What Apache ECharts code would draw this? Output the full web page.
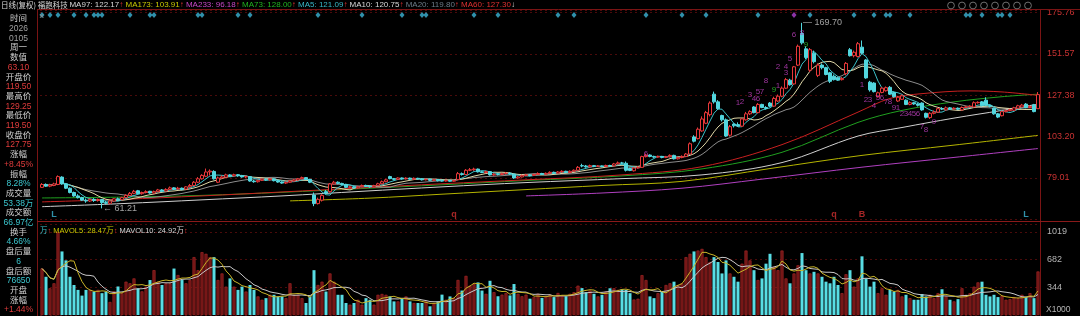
<!DOCTYPE html>
<html><head><meta charset="utf-8">
<script src="https://cdn.jsdelivr.net/npm/echarts@6/dist/echarts.min.js"></script>
<style>html,body{margin:0;padding:0;background:#000;}#c{width:1080px;height:316px;}</style>
</head><body><div id="c"></div>
<script>
// [open, close, high, low]
const ohlc = [
[73.5,75.2,76,73.2],[75.2,74.2,75.8,73.8],[74.2,74.9,75.6,73.6],[74.6,75.5,76.2,74.2],[75.2,79.8,80.5,74.8],
[79.5,75.5,80,75],[75.5,73,76,72.5],[73,70.5,73.5,70],[70.5,68.5,71,68],[68.5,67.5,69.5,67],
[67.5,66,68,65.5],[66,65.5,67,64.5],[65.5,66.5,67,65],[66.5,65.8,67.2,65],[65.8,66.4,67,65.2],
[66.4,64.6,66.8,61.21],[64.6,64.2,65.5,63.5],[64.2,65.5,66,63.5],[65.5,66.8,67.2,65],[66.8,66.2,67.5,65.6],
[66.2,67.5,68,66],[67.5,68.8,69.5,67.2],[68.8,70,70.8,68.5],[70,71.2,72,69.5],[71.5,69.8,72,69.5],
[69.8,70.5,71,69.2],[70.5,71,71.8,70],[71.2,70.2,71.5,69.8],[70.2,71,71.6,69.8],[71,72,72.6,70.6],
[72,71.4,72.5,71],[71.4,72.3,73,71],[72.3,73.2,74,72],[73.2,72.5,73.6,72],[72.5,73,73.8,72.2],
[73,72.2,73.4,71.8],[72.5,73.8,74.2,72.2],[73.8,74.6,75.5,73.4],[74.6,76.5,77.2,74.3],[76.5,78.5,79.5,76],
[78.5,80.5,81.2,78],[80,82.5,84.5,79.5],[82.5,83,84,80.5],[82.8,78.5,83.5,78],[76.5,79,79.8,76],
[79,79.6,80.5,78.5],[79.5,80.8,81.5,79.2],[80.8,80.2,81.2,79.6],[80.2,80.9,81.5,79.8],[80.9,80.3,81.3,79.7],
[80.3,79.6,80.8,79.2],[79.6,79.8,80.4,79],[79.8,77.2,80,76.8],[77.2,76.8,77.8,76.2],[76.8,77.6,78,76.3],
[77.6,78.3,78.8,77.2],[78.3,77.9,78.8,77.4],[77.9,78.5,79,77.5],[78.5,77.4,78.8,77],[77.4,76.6,77.8,76.2],
[76.6,76,77,75.6],[76,76.5,77,75.5],[76.5,77.2,77.8,76.2],[77.2,77.8,78.4,76.8],[77.8,78.5,79,77.4],
[78.5,79.2,79.8,78.2],[79.2,78.2,79.5,77.8],[78.2,76.5,78.5,76],[69,64,70.5,62.5],[64,66.5,67.5,63.5],
[66,68.8,69.5,65.2],[71,70.2,72,69.5],[71,75.5,76,70.5],[75.5,76.5,77.3,75],[76.5,75.8,77,75.3],
[75.8,75.2,76.2,74.7],[75.2,73.5,75.6,73],[73.5,73.8,74.3,73],[73.8,73.2,74.2,72.8],[73.2,73.9,74.4,72.9],
[73.9,74.6,75.2,73.6],[74.6,74.2,75.1,73.8],[74.2,73.8,74.8,73.3],[73.8,74.5,75,73.5],[74.5,75.6,76.2,74.2],
[75.6,76.8,77.5,75.3],[76.8,77.9,78.5,76.5],[79.8,78.6,80.3,78.2],[78.6,78.2,79,77.6],[78.2,79,79.4,77.8],
[79,78.5,79.3,78],[78.5,78.9,79.4,78.1],[78.9,78.3,79.2,77.9],[78.3,78.8,79.3,78],[78.8,78.4,79.1,78],
[78.4,77.9,78.8,77.5],[77.9,78.3,78.7,77.6],[78.3,77.6,78.6,77.2],[77.6,78,78.4,77.3],[78,77.4,78.3,77],
[77.4,77.2,78,76.9],[77.2,77.6,78,76.9],[77.6,77.1,77.9,76.8],[77.1,77.5,77.9,76.8],[78,81.5,82.5,77.6],
[81.5,81,82.2,80.4],[81,83.5,84.2,80.7],[83.5,83.8,84.8,83],[83.8,84.2,85,83.2],[84.2,82.6,84.5,82.2],
[82.6,82.2,83,81.8],[82.2,82.7,83.3,81.7],[82.7,80.8,83,80.4],[80.8,81.2,81.8,80.3],[81.2,81,81.6,80.5],
[81,81.5,82,80.7],[81.5,81.8,82.4,81],[81.8,81.3,82.4,80.9],[81.3,79,81.6,78.5],[79,79.6,80.2,78.6],
[79.6,80.4,81,79.3],[80.4,80.8,81.4,80],[80.8,80.5,81.2,80],[80.5,81,81.5,80.2],[81,81.6,82.3,80.7],
[81.6,81.2,82,80.8],[81.2,81.7,82.2,80.9],[81.7,82.3,82.9,81.3],[82.3,81.8,82.7,81.4],[81.8,82.5,83,81.5],
[82.5,82.9,83.5,82],[82.9,82.2,83.2,81.8],[82.2,82.9,83.4,81.9],[82.9,83.5,84,82.5],[83.5,85.2,86,83.2],
[86.2,86,87.3,85.2],[86,85.5,86.6,85],[85.5,86.2,86.8,85.1],[86.2,85.8,86.6,85.3],[85.8,86,86.5,85.4],
[86,85.7,86.3,85.2],[85.7,86.3,86.8,85.4],[86.3,86.1,86.7,85.7],[86.1,87.2,87.8,85.8],[87.2,87.8,88.6,86.8],
[87.8,87.6,88.4,87],[87.6,83.5,88.6,82.8],[84.5,83.4,85,83],[83.2,84.8,85.4,82.8],[84.8,85.2,85.8,84.5],
[85.2,91.5,92,85],[91.5,92.4,93.2,91],[92.4,91.6,92.8,91.1],[91.6,91.2,92,90.7],[91.2,91.6,92.1,90.8],
[91.6,91,91.9,90.5],[91,91.4,91.9,90.6],[91.4,92.2,92.8,91],[92.2,90.2,92.6,89.8],[90.2,91,91.5,89.8],
[91,91.6,92.2,90.5],[91.6,93,93.6,91.3],[93,99,99.8,92.7],[103,100.5,104,99.8],[102,107.5,108.5,101.5],
[106.5,113.5,115,106],[111,117.2,118.2,110.5],[116,122.8,123.8,115],[128,123.5,129.5,122.5],[123.5,119.5,124.5,118.8],
[115.5,113,116,112],[113,103.5,113.8,103],[104,109,110,103.2],[110.5,109.5,111,108.5],[110.2,109.3,111.5,108.9],
[109.3,113.5,114,108.8],[113,116.5,117.6,112.5],[116.5,117.8,118.6,115.8],[120.5,117.2,121,116.8],[117.2,122,122.8,116.8],
[122,120.2,122.4,119.8],[120.2,119.6,121,119],[122.8,121,123.4,120.4],[121,125.5,126.5,120.6],[124,126.8,127.8,123.5],
[126.8,131.5,132.5,126.2],[131.5,136.5,137.5,131],[136.2,133.5,137,133],[134,144,144.5,133.5],[145,156,157,144.5],
[163.5,158,169.7,157],[154.5,149.5,156,148.5],[142,154,155,141],[152,147,153.5,146],[139,145,146,138],
[145,143.5,146,142.5],[143.5,139.5,144,139],[140.5,135.5,141,134.5],[138.5,136.5,139.5,136],[137.5,136.2,138,135.8],
[136.5,137.2,138,136],[140,146,146.8,139],[154,150.5,155,150],[150.5,152.5,153.5,149.5],[150,157.5,158.5,149.5],
[155.5,152,159.4,151.5],[148,137.5,148.5,137],[135,130.5,135.8,129.5],[134.5,129.5,135,129],[126.5,128.8,129.5,126],
[129,131.5,132.2,128.5],[130,131.8,132.5,129.5],[132,128,132.8,127.5],[129,126.5,129.5,126],[124,126.2,127,123.5],
[125,127,127.8,124.6],[124.5,122,125,121.6],[122,123,123.8,121.5],[123,122.3,123.5,121.8],[122.3,121.5,122.8,120.8],
[122.8,118.8,123.2,118.3],[116.8,114.5,117.2,113.8],[114.3,116.8,117.5,113.5],[116.8,117.5,118.5,116.2],[117.5,119.5,120.2,117],
[119.5,119.3,120.4,118.7],[118.8,120,120.8,118.4],[120,119.4,120.5,119],[119.4,119.8,120.3,119],[119.8,119.2,120.2,118.7],
[118.8,120.2,120.8,118.4],[120.2,120.6,121.2,119.8],[120.6,121,121.5,120.2],[120.5,123,123.8,120.2],[123,123.2,123.8,122.5],
[123.5,121.2,124,120.8],[124.5,121.3,126.2,121],[121.3,120.9,121.8,120.3],[119.8,116.5,120.2,116],[116.5,114.6,117,114],
[115.4,117.8,118.4,115],[117.8,118.4,119,117.4],[118.4,119,119.5,118],[118.6,120,120.6,118.3],[119.8,121.2,121.8,119.4],
[120.5,121.6,122.3,120.2],[122.2,120.2,122.8,119.8],[120.2,120.8,121.5,119.8],[121.8,117.8,122.3,117.4],[119.5,127.75,129.25,119.5]
];
// volume, x1000 shares
const volume = [
570,469,328,389,1019,780,670,469,368,308, 238,308,308,288,308,268,288,160,290,350,
268,409,389,449,328,290,348,429,550,409, 368,389,389,570,490,429,389,429,710,550,
771,751,710,710,429,510,348,449,348,308, 348,288,368,308,228,187,207,248,248,228,
228,207,389,248,248,207,147,228,550,368, 409,288,510,409,248,248,147,127,147,187,
127,207,187,127,248,258,248,228,167,167, 207,228,167,147,147,147,167,107,147,167,
250,187,228,207,430,300,480,360,380,400, 300,260,420,280,230,250,270,240,380,260,
230,250,200,220,260,210,230,250,220,270, 240,230,260,280,360,330,280,300,260,228,
248,288,328,328,308,316,308,268,190,200, 489,429,228,207,268,288,368,389,409,368,
389,710,751,780,791,811,710,650,710,650, 510,670,510,469,409,630,791,670,550,429,
449,630,751,590,550,791,449,389,510,610, 760,550,510,530,510,469,409,389,469,368,
268,500,550,348,449,720,449,348,409,268, 328,248,308,288,308,228,248,207,187,187,
258,228,248,207,268,316,228,187,167,195, 328,248,268,348,400,409,248,228,248,220,
236,187,195,220,207,248,220,268,207,534
];
// long moving averages: [candle index, value]
const ma60Pts  = [[0,65],[20,66.5],[40,68.5],[60,70.8],[80,73.2],[100,75.6],[121,77.9],[145,80.8],[165,85.6],[185,98.5],[204,117.5],[212,125.5],[220,128.3],[232,129.9],[240,129.3],[249,127.3]];
const ma73Pts  = [[0,67.3],[20,67.8],[40,68.8],[60,70.6],[80,72.8],[100,75],[121,77.5],[145,80.2],[165,84.3],[185,94],[204,111.5],[215,118.5],[228,123.5],[240,126.5],[249,128]];
const ma97Pts  = [[0,62.2],[20,64],[40,66.2],[60,68.5],[80,71.2],[100,73.8],[121,76.3],[145,78.6],[165,80.8],[185,88],[204,103.5],[215,108.5],[228,114],[240,118.5],[249,122.2]];
const ma173Pts = [[62,65.6],[82,67.2],[100,69.5],[121,72.2],[140,74.6],[160,77],[182,84.5],[205,92.2],[228,98.2],[249,103.9]];
const ma233Pts = [[121,68.5],[140,70.2],[160,73],[180,78.3],[205,85.3],[228,91],[249,96.2]];

const priceTicks = [79.01, 103.20, 127.38, 151.57, 175.76];
const volTicks = [344, 682, 1019];
const diamondIdx = [0,2,4,8,11,13,14,15,22,27,28,39,40,49,52,69,80,90,95,96,108,114,129,133,151,160,166,179,192,203,208,211,212,217,231,232,235,239,240,242];
const diamondPurpleIdx = [188];
const tdMarks = [
[174.25,122.8,'1'],[175.25,123.4,'2'],[176.5,127.5,'3'],[177.5,125.2,'4'],[178.5,129.3,'5'],[179.25,125.2,'6'],[180.25,129.3,'7'],[181.25,135.7,'8'],[182.5,130.4,'9','g'],
[183.5,132.8,'1'],[184.25,143.9,'2'],[185.5,140.4,'3'],[186.25,143.9,'4'],[187.25,148.6,'5'],[188.25,162.6,'6'],[190.25,163.8,'8'],[191.25,156.7,'9','g'],
[205.25,133.4,'1'],[206.25,124.6,'2'],[207.25,124.6,'3'],[208.25,121.1,'4'],[209,125.8,'5'],[210,125.8,'6'],[211,123.4,'7'],[212,123.4,'8'],[213.25,119.9,'9'],[214.25,119.9,'1'],
[215.25,116.4,'2'],[216.25,116.4,'3'],[217.25,116.4,'4'],[218.25,116.4,'5'],[219.25,116.4,'6'],[220.25,108.8,'7'],[221.25,107,'8'],[222.5,111.7,'9'],[150.75,93,'6']
];
const bottomMarks = [[3,'L','#3cb4d2'],[103,'q','#d03030'],[198,'q','#d03030'],[205,'B','#d03030'],[246,'L','#3cb4d2']];
const extremes = [[190,169.7,'— 169.70'],[15,61.21,'← 61.21']];
const infoRows = [
['时间','#d0d0d0'],['2026','#a0a0a0'],['0105','#a0a0a0'],['周一','#d0d0d0'],['数值','#d0d0d0'],['63.10','#e03c3c'],
['开盘价','#d0d0d0'],['119.50','#e03c3c'],['最高价','#d0d0d0'],['129.25','#e03c3c'],['最低价','#d0d0d0'],['119.50','#e03c3c'],
['收盘价','#d0d0d0'],['127.75','#e03c3c'],['涨幅','#d0d0d0'],['+8.45%','#e03c3c'],['振幅','#d0d0d0'],['8.28%','#3cc8d0'],
['成交量','#d0d0d0'],['53.38万','#3cc8d0'],['成交额','#d0d0d0'],['66.97亿','#3cc8d0'],['换手','#d0d0d0'],['4.66%','#3cc8d0'],
['盘后量','#d0d0d0'],['6','#3cc8d0'],['盘后额','#d0d0d0'],['76650','#3cc8d0'],['开盘','#d0d0d0'],['涨幅','#d0d0d0'],['+1.44%','#e03c3c']
];
const toolIconX = [951, 962, 973, 984, 995, 1006, 1017, 1028];

const FONT = '"Liberation Sans","Noto Sans CJK SC",sans-serif';
const CJK = '"Noto Sans CJK SC",sans-serif';
const UP = '#e8383a', DOWN = '#52d6de';
const cats = ohlc.map((_, i) => String(i));
const closes = ohlc.map(d => d[1]);
function movAvg(arr, n) {
  return arr.map((_, i) => { const s = Math.max(0, i - n + 1); let t = 0; for (let j = s; j <= i; j++) t += arr[j]; return +(t / (i - s + 1)).toFixed(3); });
}
function nearestLabel(list, tol, digits) {
  return v => { for (const t of list) if (Math.abs(v - t) < tol) return t.toFixed(digits); return ''; };
}
function knotLine(pts, color) {
  return { type: 'line', data: pts, smooth: 0.35, symbol: 'none', silent: true, z: 3,
    lineStyle: { color, width: 1 }, xAxisIndex: 0, yAxisIndex: 0 };
}
function simpleLine(data, color, xi, yi) {
  return { type: 'line', data, symbol: 'none', silent: true, z: 4, lineStyle: { color, width: 1 }, xAxisIndex: xi, yAxisIndex: yi };
}

const chart = echarts.init(document.getElementById('c'), null, { width: 1080, height: 316 });

const titleRich = {
  h: { fill: '#d8d8d8', font: '7.5px ' + CJK },
  w: { fill: '#d8d8d8' }, y: { fill: '#c8c800' }, m: { fill: '#c848c8' }, g: { fill: '#20b420' },
  c: { fill: '#38b8c8' }, s: { fill: '#6c7c88' }, r: { fill: '#e03030' }
};
const titleText = '{h|日线(复权) 福跑科技 }{w|MA97: 122.17}{r|↑} {y|MA173: 103.91}{r|↑} {m|MA233: 96.18}{r|↑} {g|MA73: 128.00}{r|↑} {c|MA5: 121.09}{r|↑} {w|MA10: 120.75}{r|↑} {s|MA20: 119.80}{r|↑} {r|MA60: 127.30}{w|↓}';

const graphics = [
  { type: 'text', left: 1, top: 1, z: 10, style: { text: titleText, rich: titleRich, font: '8px ' + FONT, fill: '#d8d8d8' } },
  { type: 'text', left: 1046, top: 305, z: 10, style: { text: 'X1000', font: '8.5px ' + FONT, fill: '#b4b4b4' } },
  { type: 'text', left: 40, top: 227, z: 10, style: {
      text: '{c|万}{r|↑} {y|MAVOL5: 28.47万}{r|↑} {w|MAVOL10: 24.92万}{r|↑}', font: '7.5px ' + FONT,
      rich: { c: { fill: '#3cc8d0' }, r: { fill: '#e03030' }, y: { fill: '#c8c800' }, w: { fill: '#d8d8d8' } } } },
  { type: 'text', left: 39, top: 12, z: 10, style: { text: '×', font: '9px ' + FONT, fill: '#909090' } },
  { type: 'line', z: 9, shape: { x1: 37, y1: 9.5, x2: 1080, y2: 9.5 }, style: { stroke: '#7a1414', lineWidth: 1 } },
  { type: 'line', z: 9, shape: { x1: 37.5, y1: 9, x2: 37.5, y2: 316 }, style: { stroke: '#7a1414', lineWidth: 1 } },
  { type: 'line', z: 9, shape: { x1: 1040.5, y1: 9, x2: 1040.5, y2: 316 }, style: { stroke: '#7a1414', lineWidth: 1 } },
  { type: 'line', z: 9, shape: { x1: 37, y1: 221.5, x2: 1080, y2: 221.5 }, style: { stroke: '#8a1a1a', lineWidth: 1 } }
];
toolIconX.forEach(x => {
  graphics.push({ type: 'circle', z: 10, shape: { cx: x, cy: 5.5, r: 3.4 }, style: { stroke: '#8a8a8a', fill: 'none', lineWidth: 0.8 } });
});
infoRows.forEach((r, k) => {
  graphics.push({ type: 'text', x: 18.5, y: 19 + k * 9.7, z: 10,
    style: { text: r[0], fill: r[1], font: '8.5px ' + FONT, align: 'center', verticalAlign: 'middle' } });
});

const volData = volume.map((v, i) => ({
  value: v,
  itemStyle: ohlc[i][1] >= ohlc[i][0] ? { color: '#6a1414', borderColor: '#b42a2a', borderWidth: 0.6 } : { color: '#58dde4' }
}));

const option = {
  animation: false,
  backgroundColor: '#000',
  textStyle: { fontFamily: FONT },
  graphic: graphics,
  grid: [
    { left: 40, right: 40, top: 10, height: 209.3 },
    { left: 40, right: 40, top: 224, height: 91 }
  ],
  xAxis: [
    { type: 'category', data: cats, gridIndex: 0, boundaryGap: true, axisLine: { show: false }, axisTick: { show: false }, axisLabel: { show: false }, splitLine: { show: false } },
    { type: 'category', data: cats, gridIndex: 1, boundaryGap: true, axisLine: { show: false }, axisTick: { show: false }, axisLabel: { show: false }, splitLine: { show: false } }
  ],
  yAxis: [
    { type: 'value', gridIndex: 0, position: 'right', min: 54.8225, max: 177.22, interval: 24.1875,
      axisLine: { show: false }, axisTick: { show: false },
      axisLabel: { color: '#c83232', fontSize: 9, margin: 7, formatter: nearestLabel(priceTicks, 0.05, 2) },
      splitLine: { show: true, lineStyle: { color: '#4a0a0a', type: [2, 3], width: 1 } } },
    { type: 'value', gridIndex: 1, position: 'right', min: 0, max: 1116.6, interval: 339.6667,
      axisLine: { show: false }, axisTick: { show: false },
      axisLabel: { color: '#b4b4b4', fontSize: 9, margin: 7, formatter: nearestLabel(volTicks, 8, 0) },
      splitLine: { show: true, lineStyle: { color: '#4a0a0a', type: [2, 3], width: 1 } } }
  ],
  series: [
    knotLine(ma233Pts, '#b040c0'),
    knotLine(ma173Pts, '#b4b400'),
    knotLine(ma97Pts, '#d0d0d0'),
    knotLine(ma73Pts, '#20a020'),
    knotLine(ma60Pts, '#c82020'),
    { type: 'candlestick', xAxisIndex: 0, yAxisIndex: 0, barWidth: 3, silent: true, z: 5,
      data: ohlc.map(d => [d[0], d[1], d[3], d[2]]),
      itemStyle: { color: '#000', color0: DOWN, borderColor: UP, borderColor0: DOWN, borderWidth: 1 } },
    simpleLine(movAvg(closes, 20), '#8c8c8c', 0, 0),
    simpleLine(movAvg(closes, 10), '#e0d8a8', 0, 0),
    simpleLine(movAvg(closes, 5), '#3cc0c8', 0, 0),
    { type: 'scatter', xAxisIndex: 0, yAxisIndex: 0, symbol: 'diamond', symbolSize: [5, 6], silent: true, z: 6,
      itemStyle: { color: '#3cb4d6' }, data: diamondIdx.map(i => [i, 174.3]) },
    { type: 'scatter', xAxisIndex: 0, yAxisIndex: 0, symbol: 'diamond', symbolSize: [5, 6], silent: true, z: 6,
      itemStyle: { color: '#b040d0' }, data: diamondPurpleIdx.map(i => [i, 174.3]) },
    { type: 'scatter', xAxisIndex: 0, yAxisIndex: 0, symbolSize: 0, silent: true, z: 7,
      data: tdMarks.map(t => ({ value: [t[0], t[1]], label: { show: true, position: 'inside', formatter: t[2], color: t[3] ? '#30d030' : '#c040c0', fontSize: 8, fontFamily: FONT } })) },
    { type: 'scatter', xAxisIndex: 0, yAxisIndex: 0, symbolSize: 0, silent: true, z: 7,
      data: extremes.map(t => ({ value: [t[0], t[1]], label: { show: true, position: 'right', distance: 1, formatter: t[2], color: '#c8c8c8', fontSize: 9, fontFamily: FONT } })) },
    { type: 'scatter', xAxisIndex: 0, yAxisIndex: 0, symbolSize: 0, silent: true, z: 7,
      data: bottomMarks.map(t => ({ value: [t[0], 57.9], label: { show: true, position: 'inside', formatter: t[1], color: t[2], fontSize: 9, fontWeight: 'bold', fontFamily: FONT } })) },
    { type: 'bar', xAxisIndex: 1, yAxisIndex: 1, barWidth: 3, silent: true, data: volData },
    simpleLine(movAvg(volume, 10), '#c8c8c8', 1, 1),
    simpleLine(movAvg(volume, 5), '#c8b428', 1, 1)
  ]
};
chart.setOption(option);
</script>
</body></html>
